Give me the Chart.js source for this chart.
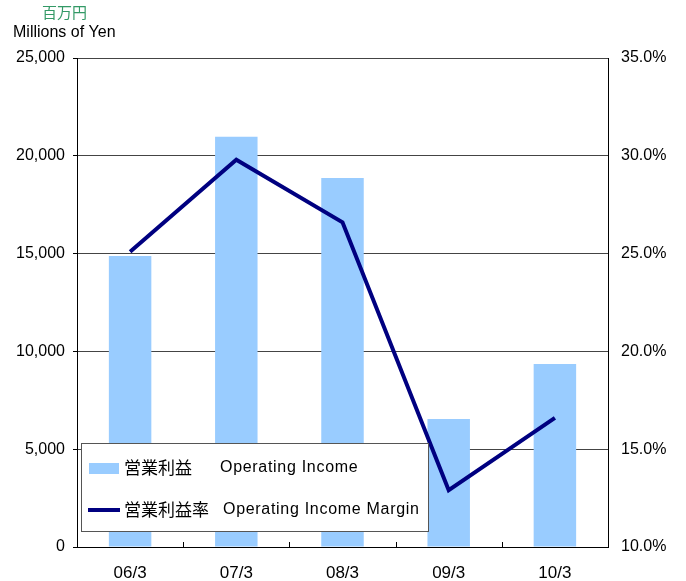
<!DOCTYPE html>
<html>
<head>
<meta charset="utf-8">
<script src="https://cdn.jsdelivr.net/npm/chart.js@4"></script>
<style>
  html, body { margin: 0; padding: 0; background: #fff; }
  #wrap { width: 686px; height: 581px; position: relative; }
</style>
</head>
<body>
<div id="wrap"><canvas id="grafica"></canvas></div>
<script>
// datos
const categories = ['06/3', '07/3', '08/3', '09/3', '10/3']
const operatingIncome = [14880, 20980, 18870, 6540, 9350]
const operatingMargin = [25.1, 29.8, 26.6, 12.9, 16.6]
const yenTicks = [0, 5000, 10000, 15000, 20000, 25000]
const marginTicks = [10, 15, 20, 25, 30, 35]
const legendJa = ['営業利益', '営業利益率']
const legendEn = ['Operating Income', 'Operating Income Margin']

const BAR = '#99ccff'
const LINE = '#000080'
const FONT = "'Liberation Sans', Arial, sans-serif"
const FONT_JA = "'Noto Sans CJK JP', sans-serif"

Chart.defaults.font.family = FONT
Chart.defaults.font.size = 16
Chart.defaults.color = '#000'

// titulo de unidades arriba a la izquierda
const unitsPlugin = {
  id: 'units',
  afterDraw(chart) {
    const ctx = chart.ctx
    ctx.save()
    ctx.textBaseline = 'middle'
    ctx.textAlign = 'left'
    ctx.fillStyle = '#339966'
    ctx.font = '15px ' + FONT_JA
    ctx.fillText('百万円', 42, 12)
    ctx.fillStyle = '#000'
    ctx.font = '16px ' + FONT
    ctx.fillText('Millions of Yen', 13, 33)
    ctx.restore()
  }
}

// marcas del eje x hacia adentro
const xTicksPlugin = {
  id: 'xticks',
  afterDatasetsDraw(chart) {
    const ctx = chart.ctx
    const x = chart.scales.x
    const bottom = chart.chartArea.bottom
    const half = (x.getPixelForValue(1) - x.getPixelForValue(0)) / 2
    ctx.save()
    ctx.strokeStyle = '#000'
    ctx.lineWidth = 1
    for (let i = 1; i < categories.length; i++) {
      const px = Math.round(x.getPixelForValue(i) - half) + 0.5
      ctx.beginPath()
      ctx.moveTo(px, bottom)
      ctx.lineTo(px, bottom - 5)
      ctx.stroke()
    }
    ctx.restore()
  }
}

// leyenda dentro del area
const boxLegend = {
  id: 'boxLegend',
  afterDraw(chart) {
    const ctx = chart.ctx
    const a = chart.chartArea
    const bx = a.left + 4, by = a.bottom - 104, bw = 347, bh = 88
    ctx.save()
    ctx.fillStyle = '#fff'
    ctx.fillRect(bx, by, bw, bh)
    ctx.strokeStyle = '#555'
    ctx.lineWidth = 1
    ctx.strokeRect(bx + 0.5, by + 0.5, bw, bh)

    const y1 = by + 25, y2 = by + 67
    ctx.fillStyle = BAR
    ctx.fillRect(bx + 8, y1 - 5, 30, 11)
    ctx.strokeStyle = LINE
    ctx.lineWidth = 4
    ctx.beginPath()
    ctx.moveTo(bx + 7, y2)
    ctx.lineTo(bx + 39, y2)
    ctx.stroke()

    ctx.fillStyle = '#000'
    ctx.textBaseline = 'middle'
    ctx.font = '17px ' + FONT_JA
    ctx.fillText(legendJa[0], bx + 43, y1)
    ctx.fillText(legendJa[1], bx + 43, y2)
    ctx.font = '16px ' + FONT
    ctx.letterSpacing = '0.7px'
    ctx.fillText(legendEn[0], bx + 139, y1)
    ctx.fillText(legendEn[1], bx + 142, y2)
    ctx.restore()
  }
}

new Chart(document.getElementById('grafica'), {
  data: {
    labels: categories,
    datasets: [
      {
        type: 'line',
        label: legendJa[1] + ' ' + legendEn[1],
        data: operatingMargin,
        yAxisID: 'y1',
        borderColor: LINE,
        borderWidth: 4,
        pointRadius: 0,
        tension: 0,
        order: 0
      },
      {
        type: 'bar',
        label: legendJa[0] + ' ' + legendEn[0],
        data: operatingIncome,
        yAxisID: 'y',
        backgroundColor: BAR,
        categoryPercentage: 0.4,
        barPercentage: 1,
        order: 1
      }
    ]
  },
  options: {
    responsive: true,
    maintainAspectRatio: false,
    animation: false,
    layout: { padding: { top: 58, left: 0, right: 0, bottom: 0 } },
    plugins: { legend: { display: false }, tooltip: { enabled: false } },
    scales: {
      x: {
        grid: { display: false, drawTicks: false },
        border: { display: true, color: '#000', width: 1 },
        ticks: { padding: 16, font: { size: 17 } },
        afterFit(s) { s.height = 34 }
      },
      y: {
        position: 'left',
        min: 0, max: 25000,
        afterBuildTicks(s) { s.ticks = yenTicks.map(v => ({ value: v })) },
        ticks: {
          padding: 8,
          callback: v => v.toLocaleString('en-US')
        },
        grid: { color: '#444', tickLength: 4, tickColor: '#000' },
        border: { display: true, color: '#000', width: 1 },
        afterFit(s) { s.width = 77 }
      },
      y1: {
        position: 'right',
        min: 10, max: 35,
        afterBuildTicks(s) { s.ticks = marginTicks.map(v => ({ value: v })) },
        ticks: {
          padding: 13,
          callback: v => v.toFixed(1) + '%'
        },
        grid: { drawOnChartArea: false, drawTicks: false },
        border: { display: true, color: '#000', width: 1 },
        afterFit(s) { s.width = 78 }
      }
    }
  },
  plugins: [unitsPlugin, xTicksPlugin, boxLegend]
})
</script>
</body>
</html>
